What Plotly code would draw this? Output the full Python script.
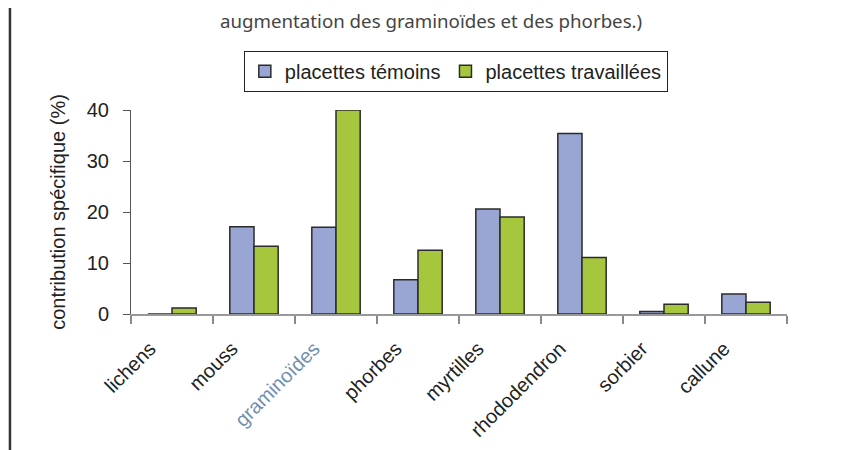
import plotly.graph_objects as go

categories = ["lichens", "mouss", "graminoïdes", "phorbes", "myrtilles", "rhododendron", "sorbier", "callune"]
temoins = [0, 17.1, 17.0, 6.7, 20.6, 35.4, 0.5, 3.9]
travaillees = [1.2, 13.3, 40.0, 12.5, 19.0, 11.1, 1.9, 2.3]
yticks = [0, 10, 20, 30, 40]

tick_text = [
    c if c != "graminoïdes" else "<span style='color:#6f8fb0'>graminoïdes</span>"
    for c in categories
]

fig = go.Figure()
fig.add_trace(go.Bar(
    x=categories, y=temoins, name="placettes témoins",
    marker=dict(color="#99A5D2", line=dict(color="#2b2b2b", width=1.5)),
))
fig.add_trace(go.Bar(
    x=categories, y=travaillees, name="placettes travaillées",
    marker=dict(color="#A6C63D", line=dict(color="#2b2b2b", width=1.5)),
))

fig.update_layout(
    width=838, height=442,
    margin=dict(l=123, r=59, t=102, b=136, autoexpand=False),
    paper_bgcolor="white", plot_bgcolor="white",
    barmode="group", bargap=0.41, bargroupgap=0,
    font=dict(family="Liberation Sans, Arial, sans-serif", size=20, color="#222222"),
    showlegend=True,
    legend=dict(
        orientation="h", x=0.172, xanchor="left", y=1.19, yanchor="middle",
        bordercolor="#222222", borderwidth=1, bgcolor="white",
        font=dict(size=20), itemwidth=30, traceorder="normal",
    ),
    annotations=[dict(
        text="augmentation des graminoïdes et des phorbes.)",
        xref="paper", yref="paper", x=0.458, y=1.441, xanchor="center", yanchor="middle",
        showarrow=False, font=dict(family="Noto Sans, sans-serif", size=18.7, color="#444444"),
    )],
    shapes=[dict(type="line", xref="paper", yref="paper",
                 x0=-0.1845, x1=-0.1845, y0=-1, y1=2,
                 line=dict(color="#333333", width=2.5))],
)

fig.update_xaxes(
    type="category", automargin=False,
    tickvals=categories, ticktext=tick_text,
    tickangle=-45, tickson="boundaries",
    ticks="outside", ticklen=8, tickcolor="#888888", tickwidth=2,
    showline=True, linecolor="#999999", linewidth=2,
    showgrid=False, ticklabelshift=-22, ticklabelstandoff=13,
    tickfont=dict(size=20, color="#222222"),
)
fig.update_yaxes(
    range=[0, 40], tickvals=yticks, automargin=False,
    ticks="outside", ticklen=7, tickcolor="#555555", tickwidth=1,
    showline=True, linecolor="#555555", linewidth=1,
    showgrid=False, zeroline=False,
    title=dict(text="contribution spécifique (%)", font=dict(size=20), standoff=15),
    tickfont=dict(size=20), ticklabelstandoff=10,
)

fig.write_html("out.html")
